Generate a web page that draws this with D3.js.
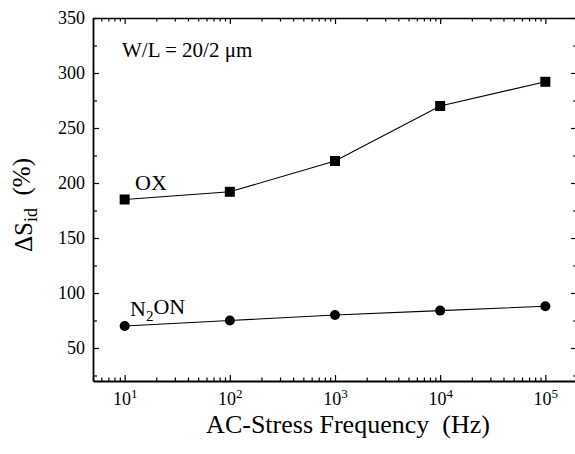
<!DOCTYPE html>
<html>
<head>
<meta charset="utf-8">
<script src="https://cdn.jsdelivr.net/npm/d3@7"></script>
<style>
  body { margin: 0; background: #fff; }
  svg text { font-family: "Liberation Serif", "Times New Roman", serif; fill: #000; }
</style>
</head>
<body>
<div id="plot"></div>
<script>
// data
var freqs = [10, 100, 1000, 10000, 100000];
var oxValues = [185, 192, 220, 270, 292];
var n2onValues = [70, 75, 80, 84, 88];
var xMajorTicks = [10, 100, 1000, 10000, 100000];
var yMajorTicks = [50, 100, 150, 200, 250, 300, 350];
var yMinorTicks = [25, 75, 125, 175, 225, 275, 325];

var width = 575, height = 454;
var plotLeft = 93, plotRight = 577, plotTop = 18, plotBottom = 381;

var svg = d3.select("#plot").append("svg")
    .attr("width", width)
    .attr("height", height);

var x = d3.scaleLog().domain([5, 2e5]).range([plotLeft, plotRight]);
var y = d3.scaleLinear().domain([20, 350]).range([plotBottom, plotTop]);

// minor log ticks: 2..9 of every decade inside the domain
var xMinorTicks = [];
[1, 10, 100, 1000, 10000, 100000].forEach(function (dec) {
    for (var m = 2; m <= 9; m++) {
        var v = m * dec;
        if (v >= 5 && v <= 2e5) xMinorTicks.push(v);
    }
});

function style(g, w) {
    g.selectAll("path").attr("stroke", "#000").attr("stroke-width", w);
    g.selectAll("line").attr("stroke", "#000").attr("stroke-width", 1.2);
}

// bottom axis
var gb = svg.append("g").attr("transform", "translate(0," + plotBottom + ")")
    .call(d3.axisBottom(x).tickValues(xMajorTicks).tickSizeInner(-6).tickSizeOuter(0));
style(gb, 2);
gb.selectAll(".tick text").each(function (d) {
    var t = d3.select(this);
    t.text(null).attr("y", 24).attr("dy", 0).style("font-size", "18px");
    t.append("tspan").text("10");
    t.append("tspan").attr("dy", "-0.55em").style("font-size", "13px").text(Math.round(Math.log10(d)));
});
var gbm = svg.append("g").attr("transform", "translate(0," + plotBottom + ")")
    .call(d3.axisBottom(x).tickValues(xMinorTicks).tickSize(-3.5).tickFormat(""));
style(gbm, 0);

// top axis
var gt = svg.append("g").attr("transform", "translate(0," + plotTop + ")")
    .call(d3.axisTop(x).tickValues(xMajorTicks).tickSizeInner(-6).tickSizeOuter(0).tickFormat(""));
style(gt, 1.5);
var gtm = svg.append("g").attr("transform", "translate(0," + plotTop + ")")
    .call(d3.axisTop(x).tickValues(xMinorTicks).tickSize(-3.5).tickFormat(""));
style(gtm, 0);

// left axis
var gl = svg.append("g").attr("transform", "translate(" + plotLeft + ",0)")
    .call(d3.axisLeft(y).tickValues(yMajorTicks).tickSizeInner(-6).tickSizeOuter(0).tickPadding(8));
style(gl, 1.8);
gl.selectAll(".tick text").style("font-size", "18px");
var glm = svg.append("g").attr("transform", "translate(" + plotLeft + ",0)")
    .call(d3.axisLeft(y).tickValues(yMinorTicks).tickSize(-4).tickFormat(""));
style(glm, 0);

// right axis
var gr = svg.append("g").attr("transform", "translate(" + plotRight + ",0)")
    .call(d3.axisRight(y).tickValues(yMajorTicks).tickSizeInner(-6).tickSizeOuter(0).tickFormat(""));
style(gr, 1.5);
var grm = svg.append("g").attr("transform", "translate(" + plotRight + ",0)")
    .call(d3.axisRight(y).tickValues(yMinorTicks).tickSize(-4).tickFormat(""));
style(grm, 0);

// lines
var line = d3.line()
    .x(function (d, i) { return x(freqs[i]); })
    .y(function (d) { return y(d); });

svg.append("path").datum(oxValues)
    .attr("d", line).attr("fill", "none").attr("stroke", "#000").attr("stroke-width", 1.1);
svg.append("path").datum(n2onValues)
    .attr("d", line).attr("fill", "none").attr("stroke", "#000").attr("stroke-width", 1.1);

// markers
svg.selectAll(".sq").data(oxValues).enter().append("rect")
    .attr("class", "sq")
    .attr("x", function (d, i) { return x(freqs[i]) - 5; })
    .attr("y", function (d) { return y(d) - 5; })
    .attr("width", 10).attr("height", 10)
    .attr("fill", "#000");

svg.selectAll(".dot").data(n2onValues).enter().append("circle")
    .attr("class", "dot")
    .attr("cx", function (d, i) { return x(freqs[i]); })
    .attr("cy", function (d) { return y(d); })
    .attr("r", 5)
    .attr("fill", "#000");

// annotations
svg.append("text").attr("x", 122).attr("y", 57)
    .style("font-size", "21px")
    .text("W/L = 20/2 \u03bcm");

svg.append("text").attr("x", 135).attr("y", 190)
    .style("font-size", "22px")
    .text("OX");

var n2 = svg.append("text").attr("x", 130).attr("y", 316)
    .style("font-size", "22px");
n2.append("tspan").text("N");
n2.append("tspan").attr("dy", "0.3em").style("font-size", "15px").text("2");
n2.append("tspan").attr("dy", "-0.3em").text("ON");

// axis titles
svg.append("text")
    .attr("x", 348).attr("y", 433)
    .attr("text-anchor", "middle")
    .style("font-size", "26px")
    .text("AC-Stress Frequency\u00a0\u00a0(Hz)");

var yl = svg.append("text")
    .attr("transform", "translate(32,205) rotate(-90)")
    .attr("text-anchor", "middle")
    .style("font-size", "25px");
yl.append("tspan").text("\u0394S");
yl.append("tspan").attr("dy", "0.3em").style("font-size", "18px").text("id");
yl.append("tspan").attr("dy", "-0.3em").text("\u00a0\u00a0(%)");
</script>
</body>
</html>
